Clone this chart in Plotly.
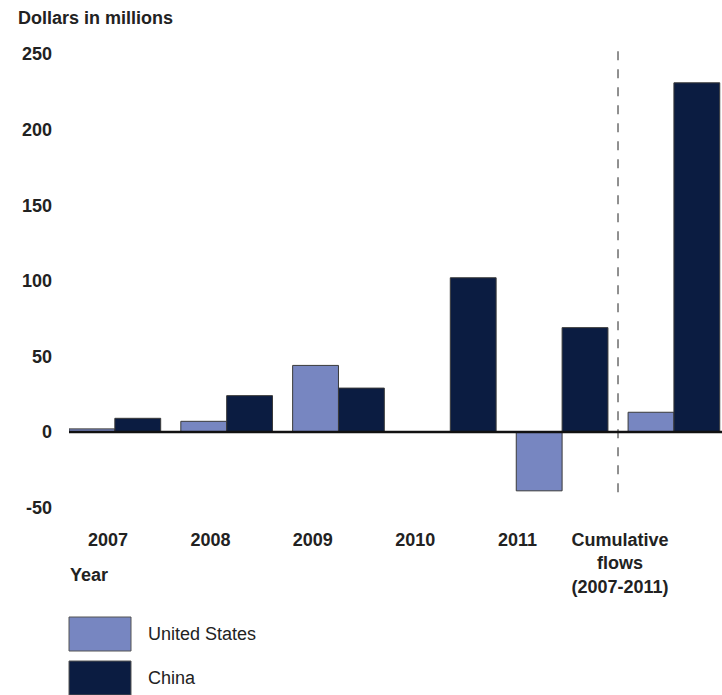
import plotly.graph_objects as go

categories = ["2007", "2008", "2009", "2010", "2011", "Cumulative"]
tick_labels = ["2007", "2008", "2009", "2010", "2011", "Cumulative<br>flows<br>(2007-2011)"]
us_values = [2, 7, 44, 0, -39, 13]
china_values = [9, 24, 29, 102, 69, 231]
y_ticks = [-50, 0, 50, 100, 150, 200, 250]

US_COLOR = "#7786C1"
CN_COLOR = "#0B1C41"
FONT = "Liberation Sans, Arial, sans-serif"
TXT = "#222222"

fig = go.Figure()
fig.add_trace(go.Bar(x=categories, y=us_values, name="United States",
                     marker=dict(color=US_COLOR, line=dict(color="#3a3a3a", width=1))))
fig.add_trace(go.Bar(x=categories, y=china_values, name="China",
                     marker=dict(color=CN_COLOR, line=dict(color="#3a3a3a", width=1))))
# invisible trace to carry the tick-label axis
fig.add_trace(go.Scatter(x=[0], y=[None], xaxis="x2", showlegend=False, hoverinfo="skip"))

# separator between years and cumulative
fig.add_shape(type="line", xref="x", yref="y", x0=4.5, x1=4.5, y0=-40, y1=256,
              line=dict(color="#555555", width=1.3, dash="dash"))
# zero line
fig.add_shape(type="line", xref="paper", yref="y", x0=0, x1=1, y0=0, y1=0,
              line=dict(color="#111111", width=2.5), layer="above")

# plot area in screen pixels: left 69, right 722, top 42, bottom 512
PW, PH, PL, PB = 653.0, 470.0, 69.0, 512.0

def px(x):
    return (x - PL) / PW

def py(y):
    return (PB - y) / PH

# manual legend
legend_items = [("United States", US_COLOR), ("China", CN_COLOR)]
for i, (name, col) in enumerate(legend_items):
    top = 617 + i * 44
    fig.add_shape(type="rect", xref="paper", yref="paper",
                  x0=px(69), x1=px(131), y0=py(top), y1=py(top + 34),
                  fillcolor=col, line=dict(color="#555555", width=1))
    fig.add_annotation(text=name, xref="paper", yref="paper", x=px(146),
                       y=py(top + 17), xanchor="left", yanchor="middle",
                       showarrow=False, font=dict(family=FONT, size=18, color=TXT))

fig.add_annotation(text="<b>Dollars in millions</b>", xref="paper", yref="paper",
                   x=px(16), y=py(18), xanchor="left", yanchor="middle",
                   showarrow=False, font=dict(family=FONT, size=18, color=TXT))
fig.add_annotation(text="<b>Year</b>", xref="paper", yref="paper",
                   x=px(68), y=py(575), xanchor="left", yanchor="middle",
                   showarrow=False, font=dict(family=FONT, size=18, color=TXT))

fig.update_layout(
    width=722, height=695,
    margin=dict(l=69, r=0, t=42, b=183),
    plot_bgcolor="white", paper_bgcolor="white",
    barmode="group", bargap=0.18, bargroupgap=0,
    showlegend=False,
    font=dict(family=FONT, color=TXT),
    xaxis=dict(type="category", range=[-0.41, 5.43], showticklabels=False,
               showgrid=False, zeroline=False, showline=False, ticks="", automargin=False),
    xaxis2=dict(overlaying="x", anchor="y", side="bottom", range=[-0.381, 5.996],
                tickmode="array", tickvals=list(range(6)),
                ticktext=["<b>" + t.replace("<br>", "</b><br><b>") + "</b>" for t in tick_labels],
                tickfont=dict(family=FONT, size=18, color=TXT),
                showgrid=False, zeroline=False, showline=False, ticks="",
                ticklabelstandoff=15, automargin=False),
    yaxis=dict(range=[-53, 258], tickmode="array", tickvals=y_ticks,
               ticktext=["<b>%d</b>" % v for v in y_ticks],
               tickfont=dict(family=FONT, size=18, color=TXT),
               showgrid=False, zeroline=False, showline=False, ticks="",
               ticklabelstandoff=16, automargin=False),
)

fig.write_html("out.html", config={"displayModeBar": False},
               post_script="document.body.style.margin='0';document.body.style.overflow='hidden';")
